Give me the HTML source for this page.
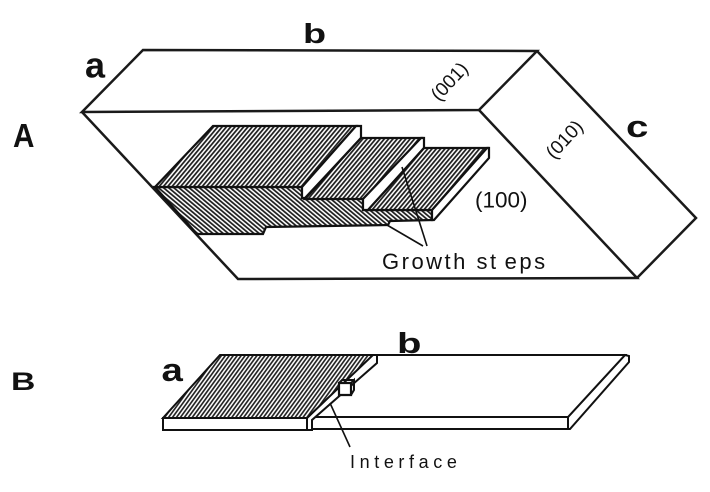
<!DOCTYPE html>
<html>
<head>
<meta charset="utf-8">
<style>
html,body{margin:0;padding:0;background:#fff;}
svg{display:block;}
text{font-family:"Liberation Sans",Arial,sans-serif;fill:#111;}
.lb{font-weight:bold;}
</style>
</head>
<body>
<svg width="710" height="492" viewBox="0 0 710 492" xmlns="http://www.w3.org/2000/svg">
<defs>
  <pattern id="hs" width="3.3" height="10" patternUnits="userSpaceOnUse" patternTransform="rotate(40)">
    <rect width="3.3" height="10" fill="#fff"/>
    <line x1="0.9" y1="-1" x2="0.9" y2="11" stroke="#1a1a1a" stroke-width="1.7"/>
  </pattern>
  <pattern id="hb" width="3.3" height="10" patternUnits="userSpaceOnUse" patternTransform="rotate(-50)">
    <rect width="3.3" height="10" fill="#fff"/>
    <line x1="0.9" y1="-1" x2="0.9" y2="11" stroke="#1a1a1a" stroke-width="1.7"/>
  </pattern>
  <pattern id="hB" width="3.2" height="10" patternUnits="userSpaceOnUse" patternTransform="rotate(36)">
    <rect width="3.2" height="10" fill="#fff"/>
    <line x1="0.9" y1="-1" x2="0.9" y2="11" stroke="#1a1a1a" stroke-width="1.6"/>
  </pattern>
</defs>

<!-- ===== A: big box ===== -->
<g fill="none" stroke="#1a1a1a" stroke-width="2.5" stroke-linejoin="miter">
  <polygon points="143,50 537,51 479,110 82,112"/>
  <polyline points="82,112 238,279 637,278 479,110"/>
  <polyline points="537,51 696,218 637,278"/>
</g>

<!-- crystal in A -->
<g stroke="#111" stroke-width="2.2" stroke-linejoin="miter">
  <polygon fill="url(#hb)" points="155,187 302,187 302,198 363,198 363,210 432,210 432,220 390,221 388,225 266,227 263,234 197,234"/>
  <polygon fill="url(#hs)" points="213,126 356,126 302,187 155,187"/>
  <polygon fill="#fff" points="356,126 361,126 361,138 305,198 302,198 302,187"/>
  <polygon fill="url(#hs)" points="361,138 421,138 364,199 305,199"/>
  <polygon fill="#fff" points="421,138 424,138 424,148 368,210 363,210 363,199"/>
  <polygon fill="url(#hs)" points="424,148 487,148 432,210 368,210"/>
  <polygon fill="#fff" points="487,148 489,148 489,158 434,220 432,220 432,210"/>
</g>

<!-- leaders growth steps -->
<g stroke="#111" stroke-width="1.6" fill="none">
  <line x1="402" y1="167" x2="427" y2="246"/>
  <line x1="387" y1="225" x2="423" y2="246"/>
</g>

<!-- A labels -->
<text class="lb" font-size="33" transform="translate(13,147) scale(0.9,1)">A</text>
<text class="lb" font-size="36" x="85" y="77.5">a</text>
<text class="lb" font-size="28" transform="translate(303,43) scale(1.35,1)">b</text>
<text class="lb" font-size="31" transform="translate(626,137) scale(1.3,1)">c</text>

<text font-size="19" text-anchor="middle" dominant-baseline="central" transform="translate(450,82) rotate(-47)">(001)</text>
<text font-size="19" text-anchor="middle" dominant-baseline="central" transform="translate(565,140) rotate(-47)">(010)</text>
<text font-size="22.5" x="475" y="207.5">(100)</text>
<text font-size="22" x="382" y="269" letter-spacing="2.5">Growth st<tspan dx="6">eps</tspan></text>

<!-- ===== B ===== -->
<g stroke="#111" stroke-width="2" stroke-linejoin="miter">
  <!-- right slab -->
  <polygon fill="#fff" points="625,355 629,356 629,362 570,429 568,429 568,417"/>
  <rect x="310" y="417" width="258" height="12" fill="#fff"/>
  <polygon fill="#fff" points="370,355 625,355 568,417 312,417"/>
  <!-- interface strip -->
  <polygon fill="#fff" points="372,355 377,355 377,363 312,420 312,430 307,430 307,418"/>
  <!-- left slab -->
  <rect x="163" y="418" width="144" height="12" fill="#fff"/>
  <polygon fill="url(#hB)" points="220,355 373,355 307,418 163,418"/>
  <!-- small cube -->
  <polygon fill="#fff" stroke-width="2.2" points="339,383 351,383 351,395 339,395"/>
  <polyline fill="none" points="351,383 354,380 354,390 351,395"/>
  <polyline fill="none" points="339,383 342,380 354,380"/>
</g>
<line x1="330" y1="403" x2="350" y2="447" stroke="#111" stroke-width="1.6"/>

<!-- B labels -->
<text class="lb" font-size="25" transform="translate(11,390) scale(1.35,1)">B</text>
<text class="lb" font-size="32" transform="translate(161.5,381) scale(1.2,1)">a</text>
<text class="lb" font-size="29" transform="translate(397,353) scale(1.38,1)">b</text>
<text font-size="18" x="350" y="468" letter-spacing="4.6">Interface</text>
</svg>
</body>
</html>
